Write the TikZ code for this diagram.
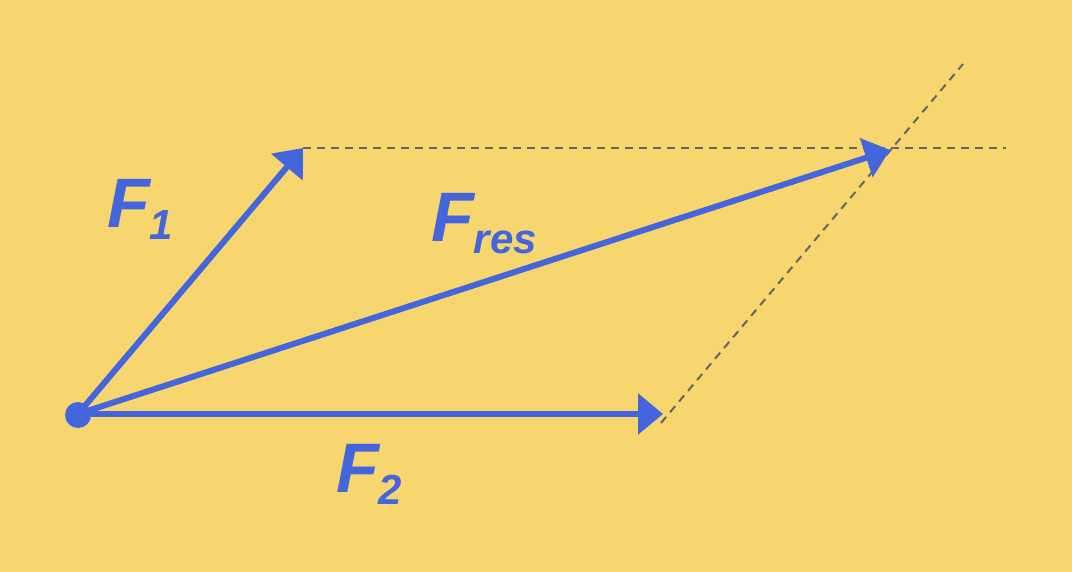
\documentclass[tikz,border=0pt]{standalone}
\usepackage{fontspec}
\setmainfont{Liberation Sans}
\usetikzlibrary{arrows.meta}
\definecolor{bg}{HTML}{F7D56F}
\definecolor{vec}{HTML}{4466DC}
\definecolor{guide}{HTML}{666666}
\newcommand{\forcelabel}[1]{{\fontsize{70}{70}\selectfont\bfseries\itshape F\raisebox{-12pt}{\fontsize{42}{42}\selectfont #1}}}
\begin{document}
\begin{tikzpicture}[x=1pt,y=-1pt,
  vector/.style={draw=vec,line width=6pt,-{Triangle[length=25pt,width=40pt]}},
  guideline/.style={draw=guide,line width=2pt,dash pattern=on 8pt off 6pt},
  lbl/.style={text=vec,inner sep=0pt,anchor=base west}]
\fill[bg] (0,0) rectangle (1072,572);
\useasboundingbox (0,0) rectangle (1072,572);
\coordinate (O) at (78,414);
\coordinate (A) at (303,148);
\coordinate (B) at (663,414);
\coordinate (C) at (890,150);
\coordinate (Hend) at (1006,148);
\coordinate (Dstart) at (661,423);
\coordinate (Dend) at (963,64);
\draw[guideline] (A) -- (Hend);
\draw[guideline] (Dstart) -- (Dend);
\draw[vector] (O) -- (A);
\draw[vector] (O) -- (B);
\draw[vector] (O) -- (C);
\fill[vec] (78,415) circle (13);
\node[lbl] (f1) at (107,228) {\forcelabel{1}};
\node[lbl] (f2) at (336,492) {\forcelabel{2}};
\node[lbl] (fr) at (431,242) {\forcelabel{res}};
\end{tikzpicture}
\end{document}
